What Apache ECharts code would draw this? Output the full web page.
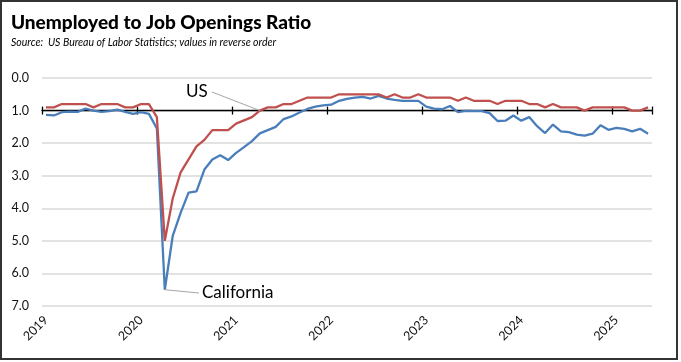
<!DOCTYPE html>
<html>
<head>
<meta charset="utf-8">
<script src="https://cdn.jsdelivr.net/npm/echarts@6/dist/echarts.min.js"></script>
<style>
  html, body { margin: 0; padding: 0; background: #fff; }
  #wrap { position: relative; width: 681px; height: 362px; }
  #chart { position: absolute; left: 0; top: 0; width: 681px; height: 362px; }
  #frame { position: absolute; left: 0; top: 0; width: 678px; height: 360px; box-sizing: border-box;
           border: 2px solid #333; pointer-events: none; }
</style>
</head>
<body>
<div id="wrap"><div id="chart"></div><div id="frame"></div></div>
<script>
// ---- data (monthly, Jan 2019 - May 2025), ratio of unemployed to job openings ----
const years = ['2019', '2020', '2021', '2022', '2023', '2024', '2025'];
const monthsInLastYear = 5;
const usRatio = [
  0.9, 0.9, 0.8, 0.8, 0.8, 0.8, 0.9, 0.8, 0.8, 0.8, 0.9, 0.9,
  0.8, 0.8, 1.2, 5.0, 3.7, 2.9, 2.5, 2.1, 1.9, 1.6, 1.6, 1.6,
  1.4, 1.3, 1.2, 1.0, 0.9, 0.9, 0.8, 0.8, 0.7, 0.6, 0.6, 0.6,
  0.6, 0.5, 0.5, 0.5, 0.5, 0.5, 0.5, 0.6, 0.5, 0.6, 0.6, 0.5,
  0.6, 0.6, 0.6, 0.6, 0.7, 0.6, 0.7, 0.7, 0.7, 0.8, 0.7, 0.7,
  0.7, 0.8, 0.8, 0.9, 0.8, 0.9, 0.9, 0.9, 1.0, 0.9, 0.9, 0.9,
  0.9, 0.9, 1.0, 1.0, 0.9
];
const caRatio = [
  1.13, 1.15, 1.05, 1.03, 1.04, 0.94, 1.00, 1.04, 1.02, 0.97, 1.04, 1.10,
  1.05, 1.10, 1.55, 6.50, 4.85, 4.14, 3.52, 3.48, 2.81, 2.50, 2.37, 2.52,
  2.30, 2.12, 1.94, 1.70, 1.60, 1.50, 1.26, 1.18, 1.06, 0.95, 0.88, 0.84,
  0.82, 0.70, 0.64, 0.60, 0.58, 0.63, 0.55, 0.63, 0.67, 0.70, 0.70, 0.70,
  0.88, 0.94, 0.96, 0.86, 1.05, 1.01, 1.02, 1.02, 1.08, 1.32, 1.31, 1.15,
  1.31, 1.20, 1.48, 1.69, 1.43, 1.64, 1.66, 1.74, 1.77, 1.71, 1.45, 1.59,
  1.53, 1.56, 1.64, 1.56, 1.71
];
const yTicks = [0, 1, 2, 3, 4, 5, 6, 7];
const usPeakIndex = 27;   // where the "US" callout points
const caPeakIndex = 15;   // where the "California" callout points

// categories built from the year list
const categories = [];
years.forEach((y, k) => {
  const n = (k === years.length - 1) ? monthsInLastYear : 12;
  for (let m = 1; m <= n; m++) categories.push(y + '-' + String(m).padStart(2, '0'));
});

const FONT = 'Lato, "Liberation Sans", sans-serif';
const isJan = (i) => categories[i] && categories[i].endsWith('-01');

const gridTop = 78, gridBottom = 56;
const plotH = 362 - gridTop - gridBottom;
const axisOffset = -(plotH / (yTicks.length - 1)); // puts the axis line at value 1.0

const chart = echarts.init(document.getElementById('chart'), null, { renderer: 'canvas' });
chart.setOption({
  animation: false,
  backgroundColor: '#ffffff',
  title: {
    text: 'Unemployed to Job Openings Ratio',
    subtext: 'Source:  US Bureau of Labor Statistics; values in reverse order',
    left: 6, top: 8, itemGap: 5,
    textStyle: { fontFamily: FONT, fontWeight: 900, fontSize: 19, color: '#000' },
    subtextStyle: { fontFamily: FONT, fontStyle: 'italic', fontSize: 10.5, color: '#000' }
  },
  grid: { left: 42, right: 29, top: gridTop, bottom: gridBottom, containLabel: false },
  xAxis: [
    {
      type: 'category', data: categories, boundaryGap: true, position: 'bottom',
      axisLine: { show: false }, axisTick: { show: false }, splitLine: { show: false },
      axisLabel: {
        interval: (i) => isJan(i), rotate: 45, margin: 12,
        formatter: (v) => v.slice(0, 4),
        fontFamily: FONT, fontSize: 12.5, color: '#111'
      }
    },
    {
      type: 'category', data: categories, boundaryGap: true, position: 'top', offset: axisOffset,
      axisLine: { show: true, lineStyle: { color: '#000', width: 1.3 } },
      axisTick: { show: true, inside: false, length: 4, interval: (i) => isJan(i), lineStyle: { color: '#000', width: 1.3 } },
      axisLabel: { show: false }, splitLine: { show: false }
    },
    {
      type: 'category', data: categories, boundaryGap: true, position: 'top', offset: axisOffset,
      axisLine: { show: false },
      axisTick: { show: true, inside: true, length: 4, interval: (i) => isJan(i), lineStyle: { color: '#000', width: 1.3 } },
      axisLabel: { show: false }, splitLine: { show: false }
    }
  ],
  yAxis: {
    type: 'value', inverse: true, min: yTicks[0], max: yTicks[yTicks.length - 1], interval: 1,
    axisLine: { show: false }, axisTick: { show: false },
    axisLabel: { formatter: (v) => v.toFixed(1), fontFamily: FONT, fontSize: 12.5, color: '#111', margin: 13 },
    splitLine: { show: true, lineStyle: { color: '#d9d9d9', width: 1.5 } }
  },
  series: [
    {
      name: 'US', type: 'line', data: usRatio, xAxisIndex: 0, symbol: 'none', z: 3,
      lineStyle: { color: '#c0504d', width: 2.3 },
      markLine: {
        silent: true, symbol: ['none', 'none'], label: { show: false },
        lineStyle: { color: '#a6a6a6', width: 1, type: 'solid' },
        data: [[{ coord: [categories[usPeakIndex], usRatio[usPeakIndex]] }, { x: 212, y: 92 }]]
      }
    },
    {
      name: 'California', type: 'line', data: caRatio, xAxisIndex: 0, symbol: 'none', z: 2,
      lineStyle: { color: '#4a7ebb', width: 2.3 },
      markLine: {
        silent: true, symbol: ['none', 'none'], label: { show: false },
        lineStyle: { color: '#a6a6a6', width: 1, type: 'solid' },
        data: [[{ coord: [categories[caPeakIndex], caRatio[caPeakIndex]] }, { x: 199, y: 293 }]]
      }
    }
  ],
  graphic: [
    { type: 'text', left: 186, top: 83, style: { text: 'US', font: '17px ' + FONT, fill: '#000' } },
    { type: 'text', left: 202, top: 284, style: { text: 'California', font: '17px ' + FONT, fill: '#000' } }
  ]
});
</script>
</body>
</html>
